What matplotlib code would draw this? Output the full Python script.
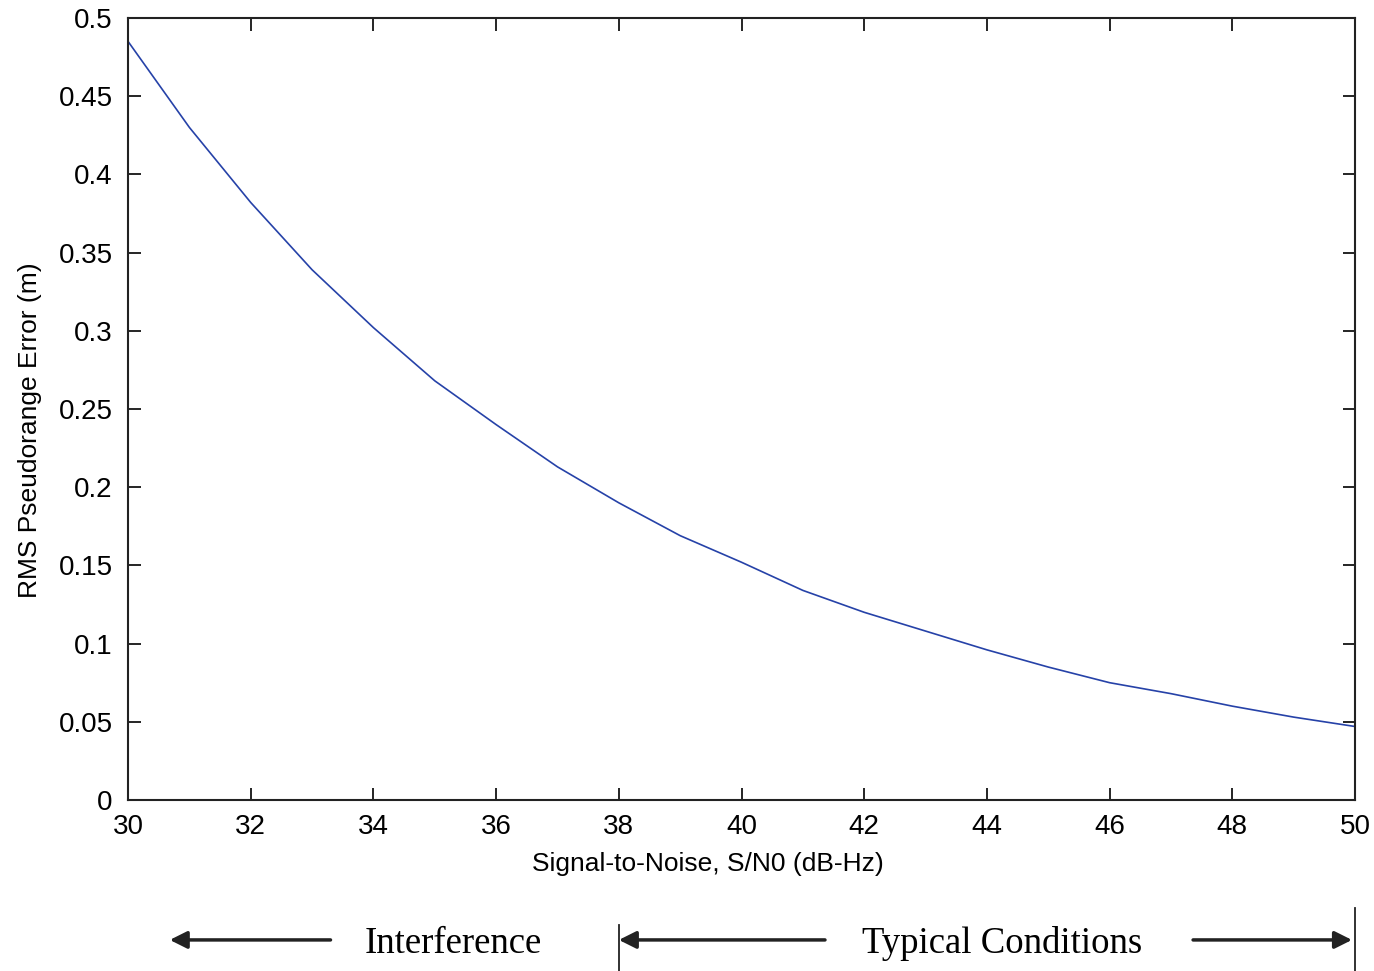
import matplotlib
matplotlib.use('Agg')
import matplotlib.pyplot as plt
import matplotlib.transforms as mtransforms

# data
snr = [30, 31, 32, 33, 34, 35, 36, 37, 38, 39, 40, 41, 42, 43, 44, 45, 46, 47, 48, 49, 50]
rms_err = [0.485, 0.430, 0.382, 0.339, 0.302, 0.268, 0.240, 0.213, 0.190, 0.169, 0.152,
           0.134, 0.120, 0.108, 0.096, 0.085, 0.075, 0.068, 0.060, 0.053, 0.047]

xticks = [30, 32, 34, 36, 38, 40, 42, 44, 46, 48, 50]
yticks = [0, 0.05, 0.1, 0.15, 0.2, 0.25, 0.3, 0.35, 0.4, 0.45, 0.5]
ytick_labels = ['0', '0.05', '0.1', '0.15', '0.2', '0.25', '0.3', '0.35', '0.4', '0.45', '0.5']

plt.rcParams['font.family'] = ['Liberation Sans', 'DejaVu Sans']

fig = plt.figure(figsize=(13.74, 9.71), dpi=100)
ax = fig.add_axes([0.0932, 0.1761, 0.893, 0.8054])

ax.plot(snr, rms_err, color='#2642a8', linewidth=1.2)
ax.set_xlim(30, 50)
ax.set_ylim(0, 0.5)
ax.set_xticks(xticks)
ax.set_yticks(yticks)
ax.set_yticklabels(ytick_labels)
ax.tick_params(direction='in', length=9, width=1.2, top=True, right=True, labelsize=20)
ax.tick_params(axis='y', pad=11)
ax.tick_params(axis='x', pad=10)
for sp in ax.spines.values():
    sp.set_linewidth(1.5)
    sp.set_color('#222222')

ax.set_xlabel('Signal-to-Noise, S/N0 (dB-Hz)', fontsize=19, labelpad=9)
ax.set_ylabel('RMS Pseudorange Error (m)', fontsize=19, labelpad=12)
# labels in the original sit a bit off-centre
ax.xaxis.label.set_x(0.4727)
ax.yaxis.label.set_y(0.473)

# region annotations below the axes (x in data units, y in figure fraction)
trans = mtransforms.blended_transform_factory(ax.transData, fig.transFigure)
arrow_kw = dict(arrowstyle='-|>', color='#222222', lw=2.5, mutation_scale=26,
                shrinkA=0, shrinkB=0)
ya = 0.032
ax.annotate('', xy=(30.68, ya), xytext=(33.3, ya), xycoords=trans, textcoords=trans,
            arrowprops=arrow_kw, annotation_clip=False)
ax.annotate('', xy=(38.0, ya), xytext=(41.36, ya), xycoords=trans, textcoords=trans,
            arrowprops=arrow_kw, annotation_clip=False)
ax.annotate('', xy=(49.95, ya), xytext=(47.36, ya), xycoords=trans, textcoords=trans,
            arrowprops=arrow_kw, annotation_clip=False)

ax.plot([38, 38], [0.0, 0.047], transform=trans, color='#222222', lw=1.3, clip_on=False)
ax.plot([50, 50], [0.0, 0.065], transform=trans, color='#222222', lw=1.3, clip_on=False)

serif = ['Liberation Serif', 'DejaVu Serif']
ax.text(35.3, 0.028, 'Interference', transform=trans, ha='center', va='center',
        fontsize=26.5, family=serif)
ax.text(44.25, 0.028, 'Typical Conditions', transform=trans, ha='center', va='center',
        fontsize=26.5, family=serif)

fig.savefig('out.png', dpi=100)
